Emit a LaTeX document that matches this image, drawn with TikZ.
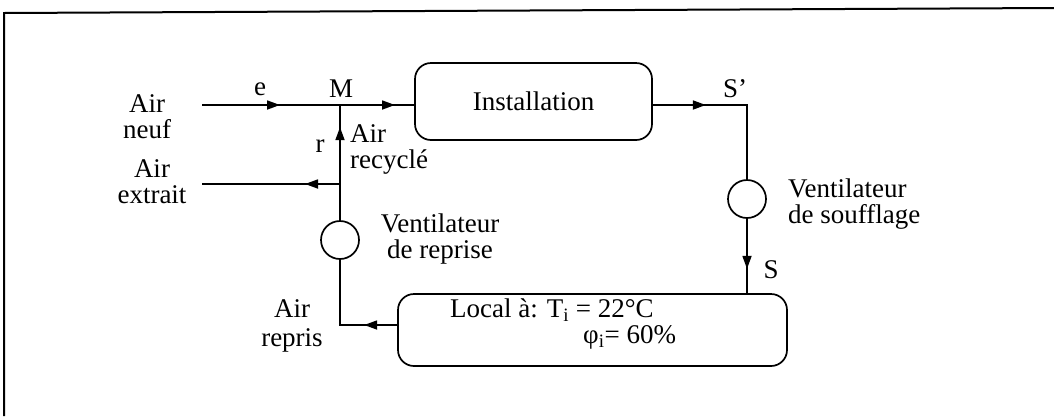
\documentclass[tikz,border=0pt]{standalone}
\usepackage{fontspec}
\setmainfont{Liberation Serif}
\usetikzlibrary{arrows.meta,decorations.markings}
\begin{document}
\begin{tikzpicture}[x=1pt,y=-1pt,
  every node/.style={font=\fontsize{27}{26}\selectfont},
  txt/.style={inner sep=0pt, align=center},
  flow/.style={line width=1.7pt},
  box/.style={draw, line width=1.7pt, rounded corners=16pt, inner sep=0pt},
  fan/.style={draw, circle, line width=1.7pt, inner sep=0pt, minimum size=38pt},
  tipat/.style={postaction={decorate}, decoration={markings, mark=at position #1 with {\arrow{Triangle[length=13pt,width=9pt]}}}},
]
\useasboundingbox (0,0) rectangle (1054,416);
% frame
\coordinate (f1) at (4,416);
\coordinate (f2) at (4,13);
\coordinate (f3) at (1054,8);
\draw[line width=2pt] (f1) -- (f2) -- (f3);

% boxes and fans
\node[box, minimum width=237pt, minimum height=77pt] (inst) at (533.5,101.5) {Installation};
\node[box, minimum width=389pt, minimum height=72pt] (local) at (592.5,330) {};
\node[txt, anchor=west] (lt1) at (450,310) {Local à: T\textsubscript{i} = 22°C};
\node[txt, anchor=west] (lt2) at (583,337) {φ\textsubscript{i}= 60\%};
\node[fan] (fanR) at (340,240) {};
\node[fan] (fanS) at (747,199) {};

% junction points
\coordinate (inN) at (202,105);
\coordinate (M) at (340,105);
\coordinate (J) at (340,184);
\coordinate (outE) at (202,184);
\coordinate (Sp) at (747,105);
\coordinate (Rc) at (340,325);

% connectors
\draw[flow, tipat=78pt] (inN) -- (M);
\draw[flow, tipat=55pt] (M) -- (inst.west |- M);
\draw[flow, tipat=35pt] (J) -- (outE);
\draw[flow, tipat=93pt] (fanR.north) -- (M);
\draw[flow, tipat=33pt] (local.west |- Rc) -- (Rc) -- (fanR.south);
\draw[flow, tipat=53pt] (inst.east |- Sp) -- (Sp) -- (fanS.north);
\draw[flow, tipat=50pt] (fanS.south) -- (fanS.south |- local.north);

% labels
\node[txt] (lneuf) at (147,117) {Air\\neuf};
\node[txt] (lext) at (152,182) {Air\\extrait};
\node[txt] (le) at (260,89) {e};
\node[txt] (lM) at (341,89) {M};
\node[txt] (lr) at (320,146) {r};
\node[txt, align=left, anchor=west] (lrec) at (350,149) {Air\\recyclé};
\node[txt] (lvr) at (440,239) {Ventilateur\\de reprise};
\node[txt, align=left, anchor=west] (lvs) at (788,204) {Ventilateur\\de soufflage};
\node[txt] (lrep) at (292,326) {Air\\[3pt]repris};
\node[txt] (lSp) at (735,89) {S'};
\node[txt] (lS) at (771,270) {S};
\end{tikzpicture}
\end{document}
